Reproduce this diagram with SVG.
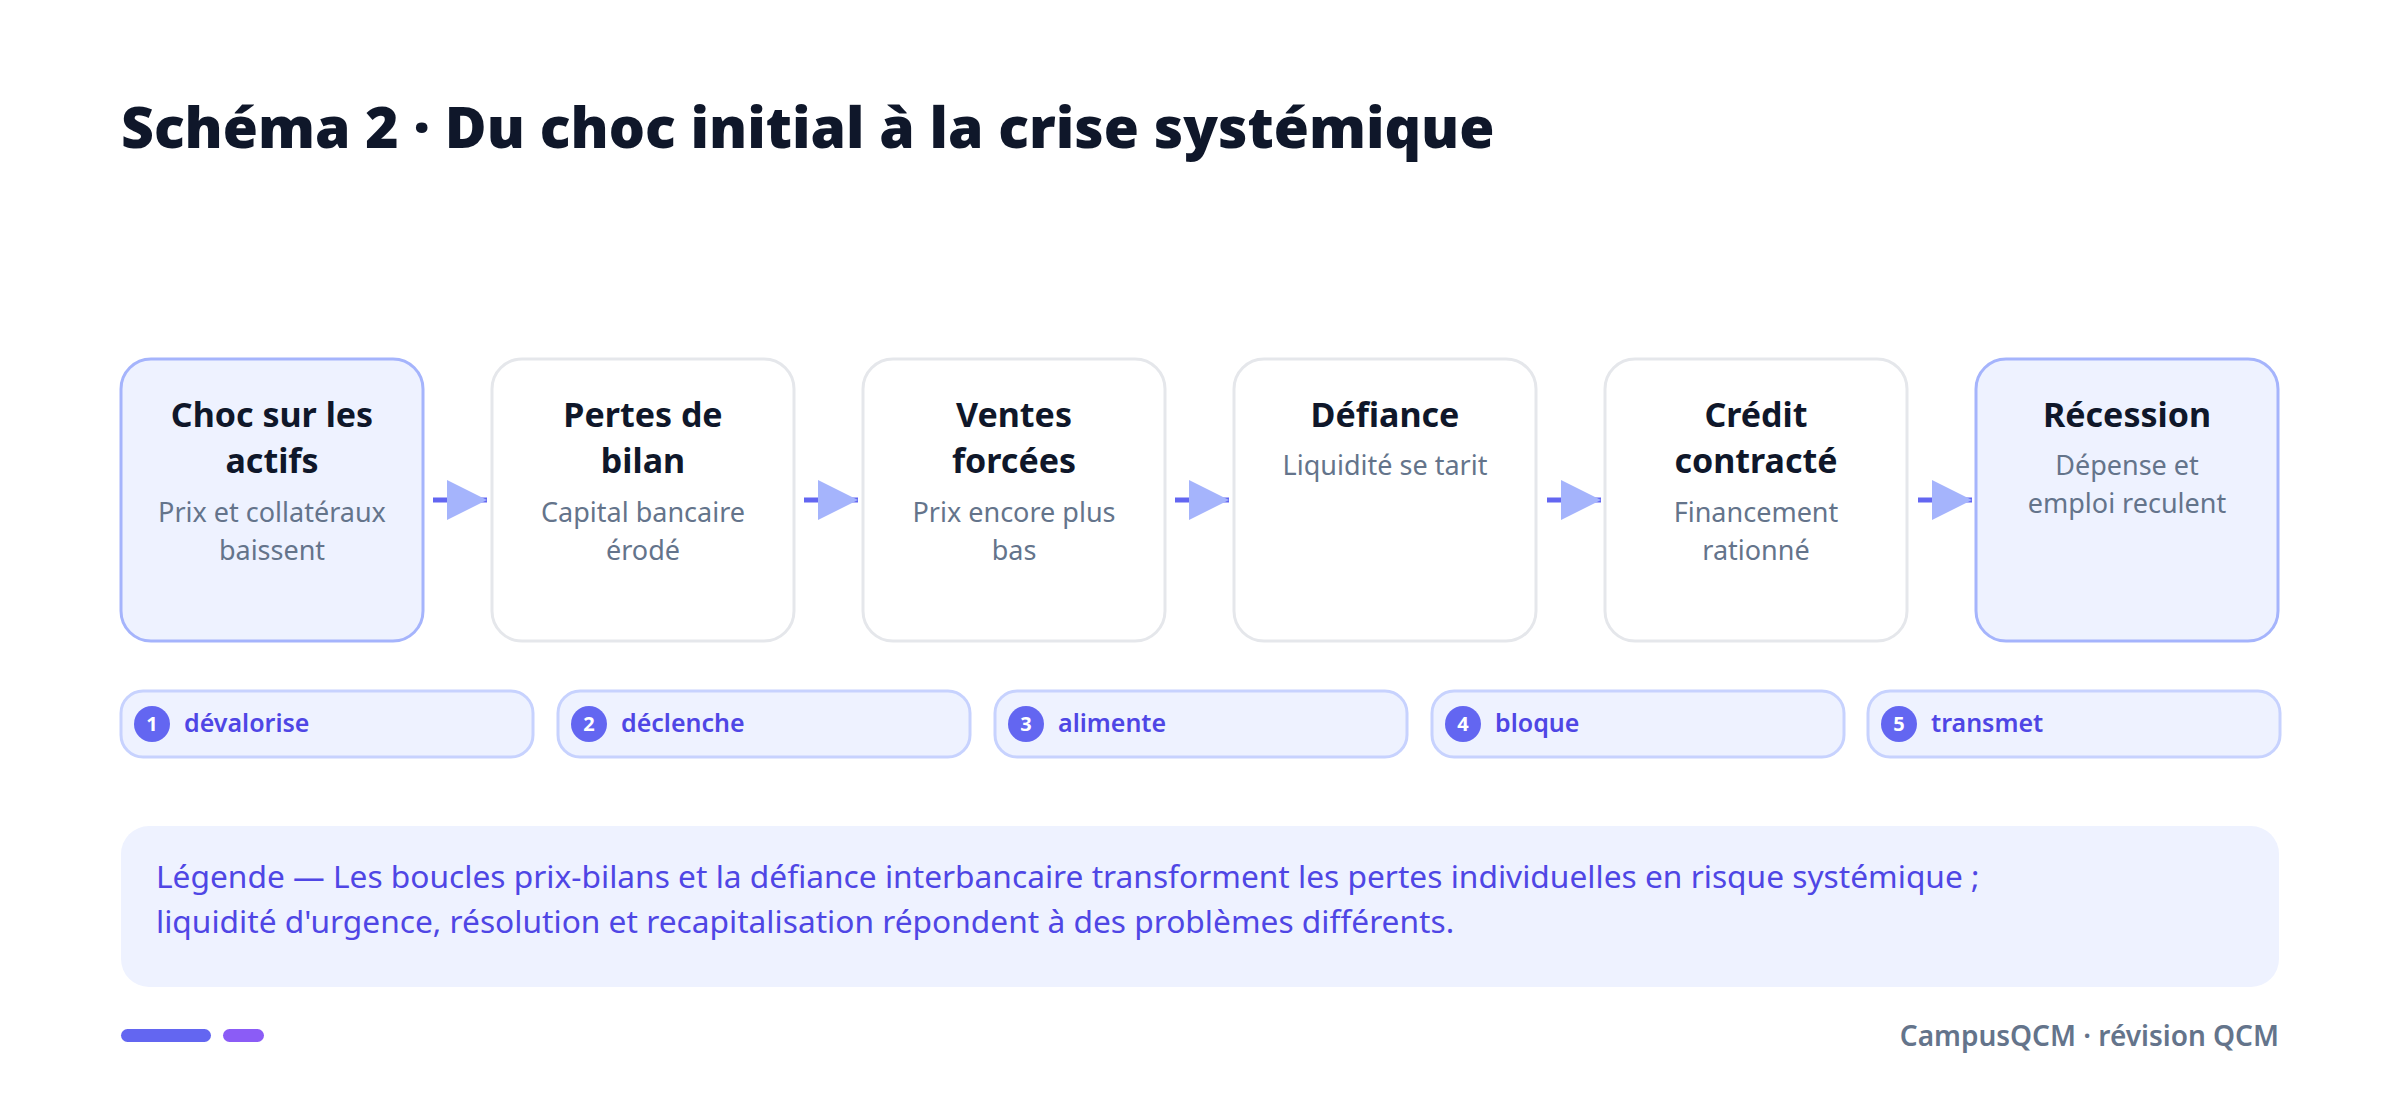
<svg xmlns="http://www.w3.org/2000/svg" width="2400" height="1096" viewBox="0 0 2400 1096">
<defs>
<style>
.title{font-family:"Noto Sans","Open Sans",sans-serif;font-weight:900;font-size:57px;fill:#0F172A}
.box{fill:#FFFFFF;stroke:#E5E7EB;stroke-width:3}
.box.hl{fill:#EEF2FF;stroke:#A5B4FC}
.nt{font-family:"Noto Sans","Open Sans",sans-serif;font-weight:700;font-size:34px;fill:#0F172A;text-anchor:middle}
.ns{font-family:"Noto Sans","Open Sans",sans-serif;font-weight:400;font-size:27px;fill:#64748B;text-anchor:middle}
.pill{fill:#EEF2FF;stroke:#C7D2FE;stroke-width:3}
.dot{fill:#6366F1}
.num{font-family:"Noto Sans","Open Sans",sans-serif;font-weight:700;font-size:20px;fill:#FFFFFF;text-anchor:middle}
.pl{font-family:"Noto Sans","Open Sans",sans-serif;font-weight:600;font-size:25px;fill:#4F46E5}
.conn{stroke:#6366F1;stroke-width:5;fill:none}
.leg{font-family:"Noto Sans","Open Sans",sans-serif;font-weight:400;font-size:31.7px;fill:#4F46E5}
.foot{font-family:"Noto Sans","Open Sans",sans-serif;font-weight:600;font-size:28px;fill:#64748B;text-anchor:end}
</style>
<marker id="arr" viewBox="0 0 10 10" refX="10" refY="5" markerWidth="40" markerHeight="40" markerUnits="userSpaceOnUse" orient="auto">
<path d="M0,0 L10,5 L0,10 Z" fill="#A5B4FC"/>
</marker>
</defs>
<rect width="2400" height="1096" fill="#FFFFFF"/>
<text class="title" x="121" y="148">Schéma 2 · Du choc initial à la crise systémique</text>

<g id="connectors">
<line class="conn" x1="433" y1="500" x2="487" y2="500" marker-end="url(#arr)"/>
<line class="conn" x1="804" y1="500" x2="858" y2="500" marker-end="url(#arr)"/>
<line class="conn" x1="1175" y1="500" x2="1229" y2="500" marker-end="url(#arr)"/>
<line class="conn" x1="1547" y1="500" x2="1601" y2="500" marker-end="url(#arr)"/>
<line class="conn" x1="1918" y1="500" x2="1972" y2="500" marker-end="url(#arr)"/>
</g>

<g id="n1">
<rect class="box hl" x="121" y="359" width="302" height="282" rx="30"/>
<text class="nt" x="272" y="427">Choc sur les</text>
<text class="nt" x="272" y="473">actifs</text>
<text class="ns" x="272" y="522">Prix et collatéraux</text>
<text class="ns" x="272" y="560">baissent</text>
</g>
<g id="n2">
<rect class="box" x="492" y="359" width="302" height="282" rx="30"/>
<text class="nt" x="643" y="427">Pertes de</text>
<text class="nt" x="643" y="473">bilan</text>
<text class="ns" x="643" y="522">Capital bancaire</text>
<text class="ns" x="643" y="560">érodé</text>
</g>
<g id="n3">
<rect class="box" x="863" y="359" width="302" height="282" rx="30"/>
<text class="nt" x="1014" y="427">Ventes</text>
<text class="nt" x="1014" y="473">forcées</text>
<text class="ns" x="1014" y="522">Prix encore plus</text>
<text class="ns" x="1014" y="560">bas</text>
</g>
<g id="n4">
<rect class="box" x="1234" y="359" width="302" height="282" rx="30"/>
<text class="nt" x="1385" y="427">Défiance</text>
<text class="ns" x="1385" y="475">Liquidité se tarit</text>
</g>
<g id="n5">
<rect class="box" x="1605" y="359" width="302" height="282" rx="30"/>
<text class="nt" x="1756" y="427">Crédit</text>
<text class="nt" x="1756" y="473">contracté</text>
<text class="ns" x="1756" y="522">Financement</text>
<text class="ns" x="1756" y="560">rationné</text>
</g>
<g id="n6">
<rect class="box hl" x="1976" y="359" width="302" height="282" rx="30"/>
<text class="nt" x="2127" y="427">Récession</text>
<text class="ns" x="2127" y="475">Dépense et</text>
<text class="ns" x="2127" y="513">emploi reculent</text>
</g>

<g id="p1">
<rect class="pill" x="121" y="691" width="412" height="66" rx="22"/>
<circle class="dot" cx="152" cy="724" r="18"/>
<text class="num" x="152" y="731">1</text>
<text class="pl" x="184" y="732">dévalorise</text>
</g>
<g id="p2">
<rect class="pill" x="558" y="691" width="412" height="66" rx="22"/>
<circle class="dot" cx="589" cy="724" r="18"/>
<text class="num" x="589" y="731">2</text>
<text class="pl" x="621" y="732">déclenche</text>
</g>
<g id="p3">
<rect class="pill" x="995" y="691" width="412" height="66" rx="22"/>
<circle class="dot" cx="1026" cy="724" r="18"/>
<text class="num" x="1026" y="731">3</text>
<text class="pl" x="1058" y="732">alimente</text>
</g>
<g id="p4">
<rect class="pill" x="1432" y="691" width="412" height="66" rx="22"/>
<circle class="dot" cx="1463" cy="724" r="18"/>
<text class="num" x="1463" y="731">4</text>
<text class="pl" x="1495" y="732">bloque</text>
</g>
<g id="p5">
<rect class="pill" x="1868" y="691" width="412" height="66" rx="22"/>
<circle class="dot" cx="1899" cy="724" r="18"/>
<text class="num" x="1899" y="731">5</text>
<text class="pl" x="1931" y="732">transmet</text>
</g>

<g id="legend">
<rect x="121" y="826" width="2158" height="161" rx="28" fill="#EEF2FF"/>
<text class="leg" x="156" y="888">Légende — Les boucles prix-bilans et la défiance interbancaire transforment les pertes individuelles en risque systémique ;</text>
<text class="leg" x="156" y="933">liquidité d'urgence, résolution et recapitalisation répondent à des problèmes différents.</text>
</g>

<g id="footer">
<rect x="121" y="1029" width="90" height="13" rx="6.5" fill="#6366F1"/>
<rect x="223" y="1029" width="41" height="13" rx="6.5" fill="#8B5CF6"/>
<text class="foot" x="2279" y="1046">CampusQCM · révision QCM</text>
</g>
</svg>
